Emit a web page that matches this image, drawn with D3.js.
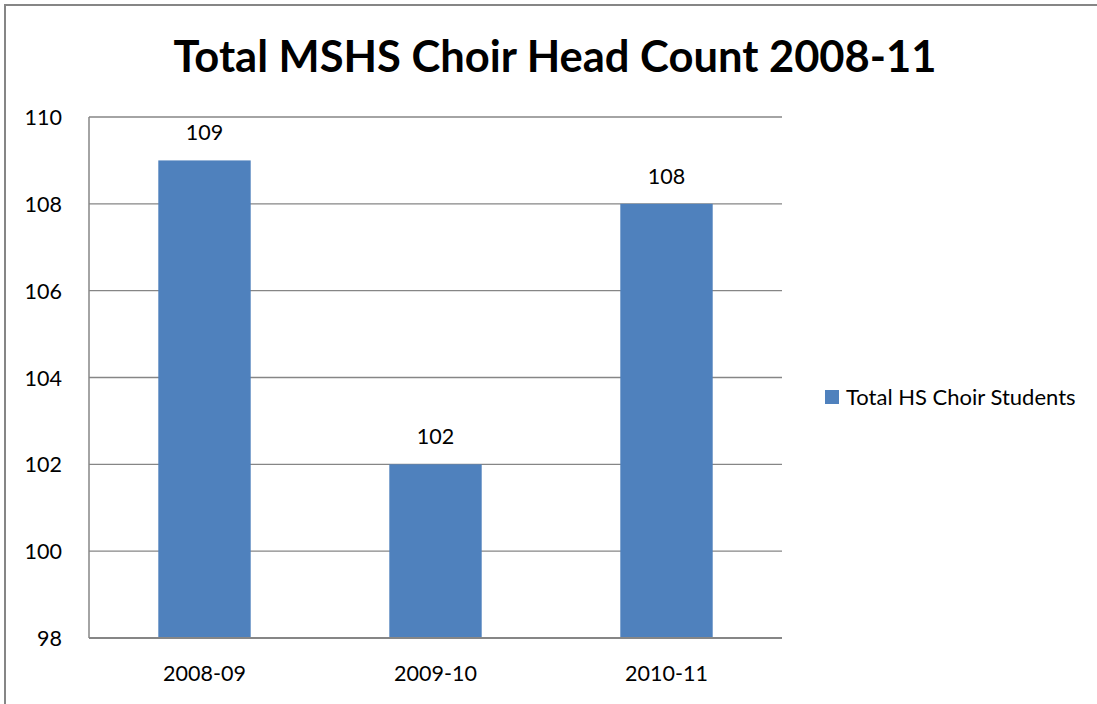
<!DOCTYPE html>
<html><head><meta charset="utf-8">
<script src="https://cdn.jsdelivr.net/npm/d3@7"></script>
<style>
html,body{margin:0;padding:0;background:#fff;}
svg text{font-family:Lato,"Open Sans",sans-serif;fill:#000;}
</style></head>
<body>
<svg id="chart" width="1097" height="704"></svg>
<script>
const categories = ["2008-09", "2009-10", "2010-11"];
const values = [109, 102, 108];
const yTicks = [98, 100, 102, 104, 106, 108, 110];
const seriesName = "Total HS Choir Students";
const title = "Total MSHS Choir Head Count 2008-11";

const svg = d3.select("#chart");
const W = 1097, H = 704;
const plot = {left: 89, right: 782, top: 117, bottom: 638};
const barColor = "#4F81BD";
const gridColor = "#868686";
const fs = 21.5;

// frame
svg.append("rect").attr("x", 5).attr("y", 5).attr("width", W + 10).attr("height", H + 10)
  .attr("fill", "#fff").attr("stroke", gridColor).attr("stroke-width", 2);

const x = d3.scaleBand().domain(categories).range([plot.left, plot.right]).paddingInner(0.6).paddingOuter(0.3);
const y = d3.scaleLinear().domain([98, 110]).range([plot.bottom, plot.top]);

// gridlines
svg.append("g").selectAll("line").data(yTicks).join("line")
  .attr("x1", plot.left).attr("x2", plot.right)
  .attr("y1", d => y(d)).attr("y2", d => y(d))
  .attr("stroke", gridColor).attr("stroke-width", 1.3);

// bars
svg.append("g").selectAll("rect").data(values).join("rect")
  .attr("x", (d, i) => x(categories[i]))
  .attr("width", x.bandwidth())
  .attr("y", d => y(d))
  .attr("height", d => y(98) - y(d))
  .attr("fill", barColor);

// axes lines
svg.append("line").attr("x1", plot.left).attr("x2", plot.left).attr("y1", plot.top).attr("y2", plot.bottom)
  .attr("stroke", gridColor).attr("stroke-width", 1.5);
svg.append("line").attr("x1", plot.left).attr("x2", plot.right).attr("y1", plot.bottom).attr("y2", plot.bottom)
  .attr("stroke", gridColor).attr("stroke-width", 2);

// y labels
svg.append("g").selectAll("text").data(yTicks).join("text")
  .attr("x", 62).attr("y", d => y(d) + 8)
  .attr("text-anchor", "end").attr("font-size", fs)
  .text(d => d);

// x labels
svg.append("g").selectAll("text").data(categories).join("text")
  .attr("x", d => x(d) + x.bandwidth() / 2).attr("y", 681)
  .attr("text-anchor", "middle").attr("font-size", fs)
  .text(d => d);

// value labels
svg.append("g").selectAll("text").data(values).join("text")
  .attr("x", (d, i) => x(categories[i]) + x.bandwidth() / 2)
  .attr("y", d => y(d) - 20)
  .attr("text-anchor", "middle").attr("font-size", fs)
  .text(d => d);

// title
svg.append("text").attr("x", 555).attr("y", 72).attr("text-anchor", "middle")
  .attr("font-size", 43.5).attr("font-weight", "bold").text(title);

// legend
svg.append("rect").attr("x", 825).attr("y", 390).attr("width", 14).attr("height", 14).attr("fill", barColor);
svg.append("text").attr("x", 846).attr("y", 405).attr("font-size", 22).text(seriesName);
</script>
</body></html>
